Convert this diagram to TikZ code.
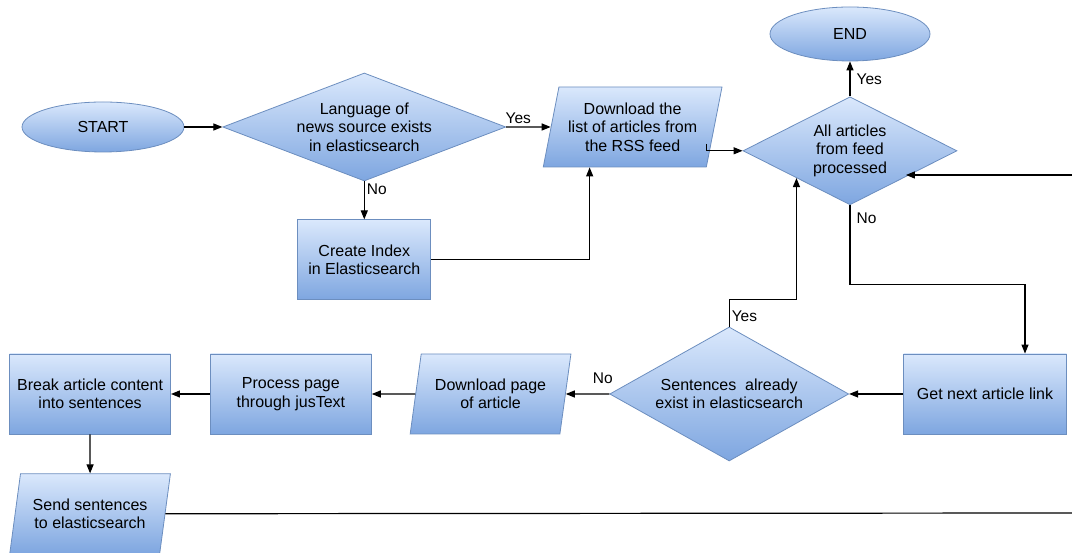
\documentclass[tikz,border=0pt]{standalone}
\usepackage{fontspec}
\setmainfont{Liberation Sans}
\usepackage{tikz}
\usetikzlibrary{arrows.meta,positioning,shapes.geometric}
\definecolor{boxtop}{RGB}{218,232,252}
\definecolor{boxbot}{RGB}{126,166,224}
\definecolor{boxline}{RGB}{108,142,191}
\tikzset{
  base/.style={draw=boxline, top color=boxtop, bottom color=boxbot, align=center, font=\fontsize{16}{18.5}\selectfont, line width=0.8pt},
  terminal/.style={base, ellipse, inner sep=0pt},
  decision/.style={base, diamond, inner sep=0pt},
  process/.style={base, rectangle, minimum height=80pt},
  io/.style={base, trapezium, trapezium left angle=75, trapezium right angle=105, trapezium stretches=true, minimum height=80pt, inner sep=2pt},
  lbl/.style={font=\fontsize{15.5}{17}\selectfont, inner sep=2pt},
  arrow/.style={-{Triangle[length=9pt,width=7pt]}, line width=1.2pt},
  plain/.style={line width=1.2pt},
}

\begin{document}
\begin{tikzpicture}[x=1pt,y=1pt]
\useasboundingbox (0,0) rectangle (1072,553);
\node[terminal, minimum width=162pt, minimum height=50pt] (start) at (103,426) {START};
\node[decision, minimum width=283pt, minimum height=108pt, aspect=2.62, right=38pt of start] (lang) {Language of\\news source exists\\in elasticsearch};
\node[process, minimum width=133pt, below=38pt of lang] (index) {Create Index\\in Elasticsearch};
\node[io, minimum width=179pt, right=44.5pt of lang] (rss) {Download the\\list of articles from\\the RSS feed};
\node[terminal, minimum width=160pt, minimum height=54pt] (stop) at (850,519) {END};
\node[decision, minimum width=214pt, minimum height=108pt, aspect=2, below=35pt of stop] (done) {All articles\\from feed\\processed};
\node[process, minimum width=163pt] (next) at (985,159) {Get next article link};
\node[decision, minimum width=239pt, minimum height=134pt, aspect=1.8, left=54pt of next] (exists) {Sentences\ \ already\\exist in elasticsearch};
\node[io, minimum width=161pt, left=43.5pt of exists] (page) {Download page\\of article};
\node[process, minimum width=161pt, left=43.5pt of page] (proc) {Process page\\through jusText};
\node[process, minimum width=161pt, left=39pt of proc] (brk) {Break article content\\into sentences};
\node[io, minimum width=161pt, below=39pt of brk] (send) {Send sentences\\to elasticsearch};
\coordinate (loopin) at (1072,378);
\coordinate (sendout) at (1072,40);

\draw[arrow] (start) -- (lang);
\draw[arrow] (lang) -- node[lbl, above=1pt, pos=0.27] {Yes} (rss);
\draw[arrow] (lang) -- node[lbl, right, pos=0.2] {No} (index);
\draw[arrow] (index.east) -| ([xshift=-43pt]rss.south);
\draw[arrow] ([shift={(-8pt,-17pt)}]rss.east) |- (done.west);
\draw[arrow] (done) -- node[lbl, right=4pt] {Yes} (stop);
\draw[arrow] (done.south) -- node[lbl, right=4pt, pos=0.16] {No} ++(0,-79) -| ([xshift=40pt]next.north);
\draw[arrow] (loopin) -- (done.-25 |- loopin);
\draw[arrow] (next) -- (exists);
\draw[arrow] (exists.north) -- node[lbl, right, pos=0.4] {Yes} ++(0,27) -| (done.207);
\draw[arrow] (exists) -- node[lbl, above=8pt, pos=0.15] {No} (page);
\draw[arrow] (page) -- (proc);
\draw[arrow] (proc) -- (brk);
\draw[arrow] (brk) -- (send);
\draw[plain] (send) -- (sendout);
\end{tikzpicture}
\end{document}
